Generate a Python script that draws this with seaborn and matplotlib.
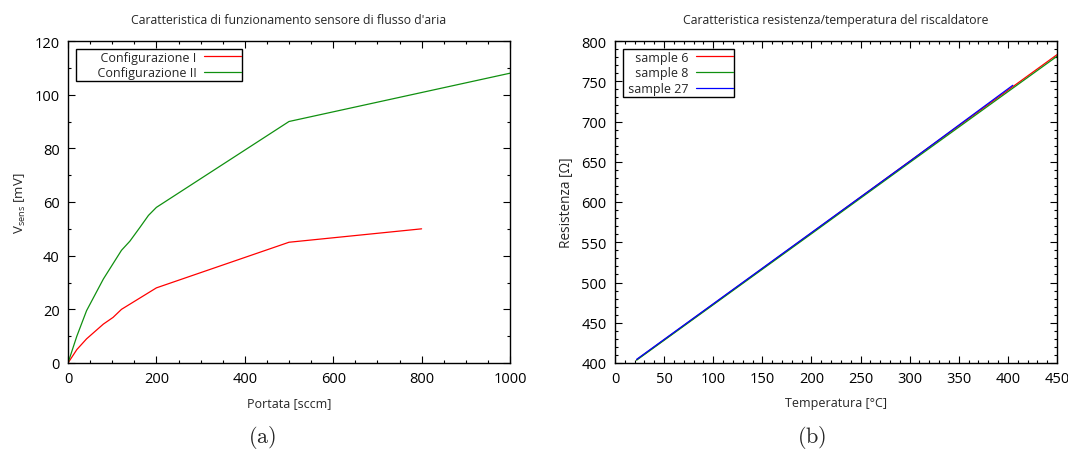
import numpy as np
import pandas as pd
import matplotlib
matplotlib.use("Agg")
import matplotlib.pyplot as plt
from matplotlib.ticker import MultipleLocator
import seaborn as sns

# ---- data (a) ----
portata_I = [0, 20, 42, 80, 102, 121, 200, 500, 800]
vsens_I = [0, 5, 9, 14.5, 17, 20, 28, 45, 50]
portata_II = [0, 20, 42, 80, 121, 140, 163, 182, 200, 500, 1000]
vsens_II = [0, 10, 19.5, 31.3, 42, 45.4, 50.6, 55, 58, 90, 108]
labels_a = ["Configurazione I", "Configurazione II"]

# ---- data (b) ----
temp_s6 = [22, 200, 300, 450]
res_s6 = [404, 561.5, 650.5, 783]
temp_s8 = [22, 200, 300, 450]
res_s8 = [403.5, 560.5, 649, 781]
temp_s27 = [22, 200, 300, 405]
res_s27 = [404.5, 562, 650.5, 745]
labels_b = ["sample 6", "sample 8", "sample 27"]

sns.set_style("ticks")
plt.rcParams["font.family"] = ["Open Sans", "DejaVu Sans"]
plt.rcParams["mathtext.fontset"] = "custom"
plt.rcParams["mathtext.rm"] = "Open Sans"
plt.rcParams["mathtext.it"] = "Open Sans"

fig = plt.figure(figsize=(10.68, 4.56), dpi=100)
ax1 = fig.add_axes([68/1068, 92/456, 442/1068, 322/456])
ax2 = fig.add_axes([615/1068, 92/456, 442/1068, 322/456])

df_a = pd.concat([
    pd.DataFrame({"x": portata_I, "y": vsens_I, "s": labels_a[0]}),
    pd.DataFrame({"x": portata_II, "y": vsens_II, "s": labels_a[1]}),
])
df_b = pd.concat([
    pd.DataFrame({"x": temp_s6, "y": res_s6, "s": labels_b[0]}),
    pd.DataFrame({"x": temp_s8, "y": res_s8, "s": labels_b[1]}),
    pd.DataFrame({"x": temp_s27, "y": res_s27, "s": labels_b[2]}),
])

red, green, blue = "#ff0000", "#109010", "#0000ff"
sns.lineplot(data=df_a, x="x", y="y", hue="s", palette=[red, green], ax=ax1,
             linewidth=0.9, sort=False, estimator=None)
sns.lineplot(data=df_b, x="x", y="y", hue="s", palette=[red, green, blue], ax=ax2,
             linewidth=0.9, sort=False, estimator=None)

ax1.set_xlim(0, 1000)
ax1.set_ylim(0, 120)
ax1.xaxis.set_major_locator(MultipleLocator(200))
ax1.xaxis.set_minor_locator(MultipleLocator(50))
ax1.yaxis.set_major_locator(MultipleLocator(20))
ax1.yaxis.set_minor_locator(MultipleLocator(10))
ax1.set_xlabel("Portata [sccm]", fontsize=9, labelpad=7)
ax1.set_ylabel(r"V$_{\rm sens}$ [mV]", fontsize=9.5, labelpad=5)
ax1.set_title("Caratteristica di funzionamento sensore di flusso d'aria", fontsize=8.8, pad=13)

ax2.set_xlim(0, 450)
ax2.set_ylim(400, 800)
ax2.xaxis.set_major_locator(MultipleLocator(50))
ax2.xaxis.set_minor_locator(MultipleLocator(10))
ax2.yaxis.set_major_locator(MultipleLocator(50))
ax2.yaxis.set_minor_locator(MultipleLocator(10))
ax2.set_xlabel("Temperatura [°C]", fontsize=9, labelpad=7)
ax2.set_ylabel("Resistenza [Ω]", fontsize=9.8, labelpad=5)
ax2.set_title("Caratteristica resistenza/temperatura del riscaldatore", fontsize=8.8, pad=13)

for ax, prefix in ((ax1, "      "), (ax2, " ")):
    for sp in ax.spines.values():
        sp.set_visible(True)
        sp.set_linewidth(1.0)
        sp.set_color("black")
    ax.tick_params(which="both", direction="in", top=True, right=True,
                   labelsize=10.5, colors="black", width=0.8)
    ax.tick_params(which="major", length=5, pad=6)
    ax.tick_params(which="minor", length=2.5)
    h, l = ax.get_legend_handles_labels()
    l = [prefix + s for s in l]
    leg = ax.legend(h, l, loc="upper left", markerfirst=False, fontsize=9,
                    frameon=True, fancybox=False, framealpha=1, edgecolor="black",
                    borderaxespad=0.65, handlelength=2.95, labelspacing=0.22,
                    borderpad=0.12, handletextpad=0.6)
    leg.get_frame().set_linewidth(1.0)

fig.text(262/1068, 18/456, r"$\mathrm{(a)}$", fontsize=16, ha="center", va="center",
         math_fontfamily="cm")
fig.text(812/1068, 18/456, r"$\mathrm{(b)}$", fontsize=16, ha="center", va="center",
         math_fontfamily="cm")

fig.savefig("out.png", dpi=100)
